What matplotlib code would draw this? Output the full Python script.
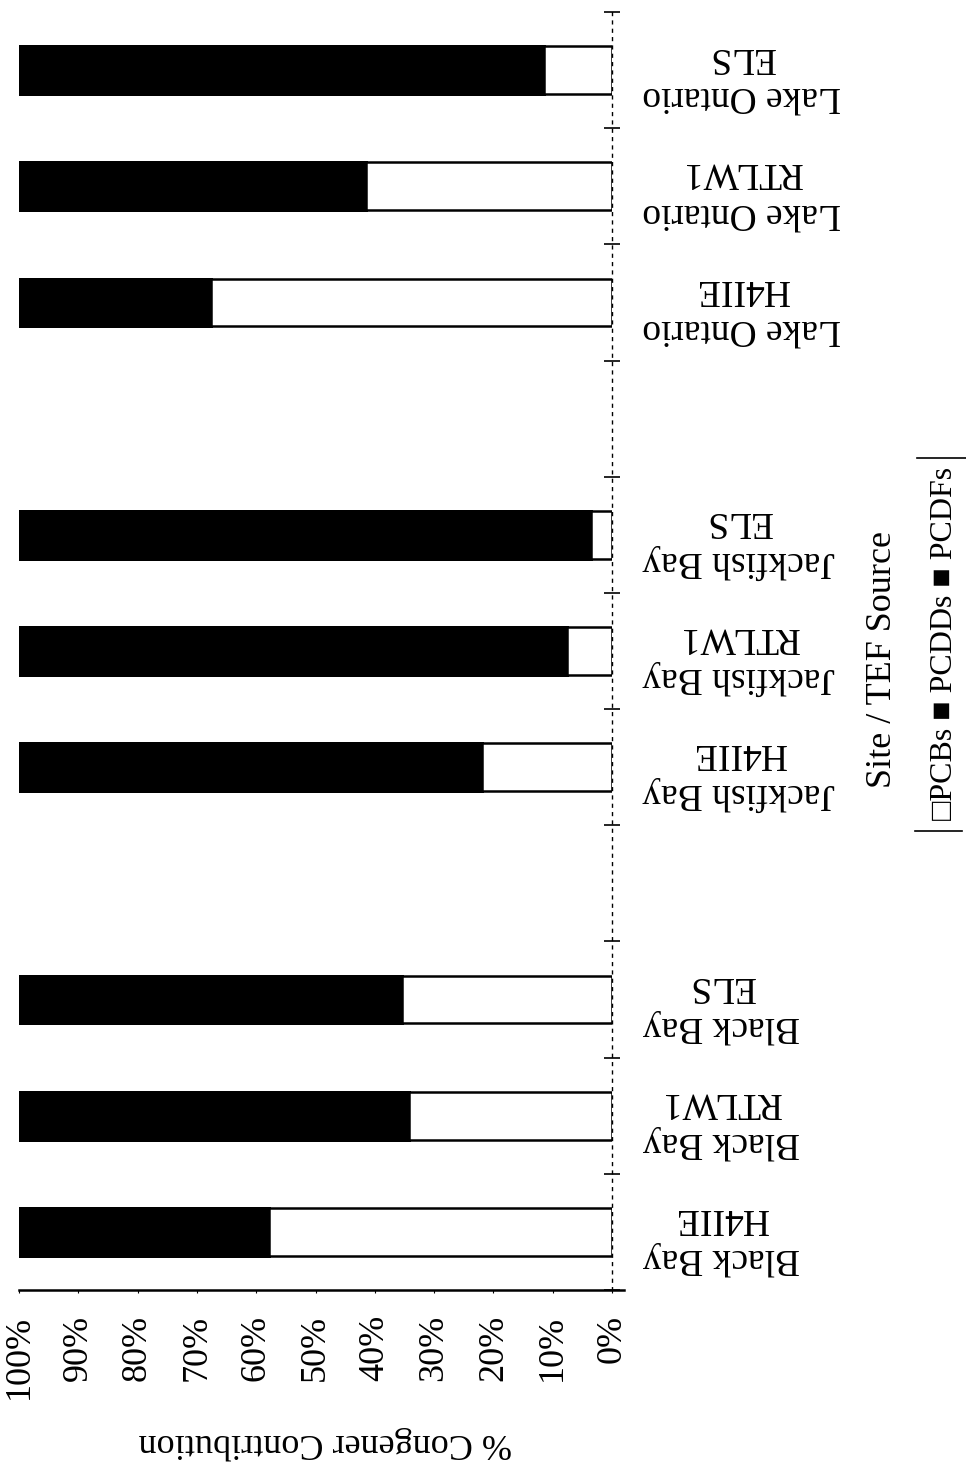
import numpy as np
import matplotlib
matplotlib.use("Agg")
import matplotlib.pyplot as plt
from matplotlib.lines import Line2D
from matplotlib.ticker import FixedLocator

plt.rcParams['font.family'] = ['Liberation Serif', 'DejaVu Serif', 'DejaVu Sans']

# Site / TEF source combinations
sites = ['Black Bay', 'Black Bay', 'Black Bay',
         'Jackfish Bay', 'Jackfish Bay', 'Jackfish Bay',
         'Lake Ontario', 'Lake Ontario', 'Lake Ontario']
tef_sources = ['H4IIE', 'RTLW1', 'ELS'] * 3

# % contribution of each congener class to total TEQ
pcbs = [57.9, 34.2, 35.4, 22.0, 7.6, 3.6, 67.6, 41.5, 11.5]
pcdds = [18.0, 28.0, 27.0, 30.0, 38.0, 42.0, 14.0, 24.0, 36.0]
pcdfs = [24.1, 37.8, 37.6, 48.0, 54.4, 54.4, 18.4, 34.5, 52.5]

pct_ticks = [0, 10, 20, 30, 40, 50, 60, 70, 80, 90, 100]
pct_labels = ['0%', '10%', '20%', '30%', '40%', '50%', '60%', '70%', '80%', '90%', '100%']

# three bars per site, one empty slot between sites
pos = np.array([4 * (i // 3) + i % 3 for i in range(len(sites))])
pcbs = np.array(pcbs)
pcdds = np.array(pcdds)
pcdfs = np.array(pcdfs)

fig = plt.figure(figsize=(9.66, 14.68), dpi=100)
ax = fig.add_axes([19 / 966, 1 - 1290 / 1468, 593 / 966, 1278 / 1468])

bh = 0.41
ax.barh(pos, pcdds, left=pcbs, height=bh, color='black', edgecolor='black',
        linewidth=1.8, antialiased=False)
ax.barh(pos, pcdfs, left=pcbs + pcdds, height=bh, color='black', edgecolor='black',
        linewidth=1.8, antialiased=False)
ax.barh(pos, pcbs, height=bh, color='white', edgecolor='black', linewidth=1.8)

ax.set_xlim(100, 0)
ax.set_ylim(-0.5, 10.5)

# value axis along the bottom
ax.set_xticks(pct_ticks)
ax.set_xticklabels(pct_labels, rotation=90, fontsize=26)
ax.tick_params(axis='x', direction='out', length=2, width=0.8, pad=16)

# category axis on the right, labels upside down
ax.yaxis.tick_right()
ax.set_yticks(pos)
ax.set_yticklabels([f'{s}\n{t}' for s, t in zip(sites, tef_sources)], fontsize=27)
for lab in ax.get_yticklabels():
    lab.set_rotation(180)
    lab.set_multialignment('center')
ax.tick_params(axis='y', which='major', length=0, pad=22)
ax.yaxis.set_minor_locator(FixedLocator(np.arange(-0.5, 10.6, 1.0)))
ax.tick_params(axis='y', which='minor', direction='inout', length=12, width=1.2, right=True, left=False)

for side in ['left', 'top']:
    ax.spines[side].set_visible(False)
ax.spines['right'].set_linestyle((0, (2, 4)))
ax.spines['right'].set_linewidth(1.0)
ax.spines['bottom'].set_linewidth(1.8)
ax.spines['bottom'].set_bounds(100, -2)

ax.set_xlabel('% Congener Contribution', fontsize=26, rotation=180, va='center')
ax.xaxis.set_label_coords((325 - 19) / 593, (1290 - 1443) / 1278)

ax.yaxis.set_label_position('right')
ax.set_ylabel('Site / TEF Source', fontsize=26, rotation=90, va='center')
ax.yaxis.set_label_coords((882 - 19) / 593, (1290 - 660) / 1278)

# legend, turned with the page
fig.text(945 / 966, 1 - 643 / 1468, '\u25a1PCBs \u25a0 PCDDs \u25a0 PCDFs',
         rotation=90, fontsize=23, ha='center', va='center')
fig.add_artist(Line2D([917 / 966, 966 / 966], [1 - 458 / 1468, 1 - 458 / 1468],
                      color='black', linewidth=1.2, transform=fig.transFigure))
fig.add_artist(Line2D([915 / 966, 962 / 966], [1 - 831 / 1468, 1 - 831 / 1468],
                      color='black', linewidth=1.2, transform=fig.transFigure))

fig.savefig('out.png', dpi=100, facecolor='white')
